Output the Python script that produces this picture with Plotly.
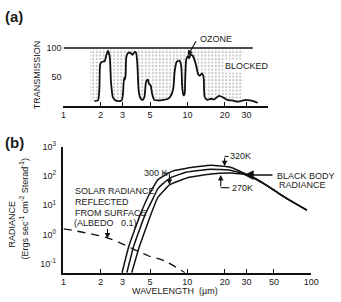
import plotly.graph_objects as go

# ---------------- data ----------------
# Panel (a): atmospheric transmission (%) vs wavelength (um)
T_WL = [1.78, 1.9, 1.95, 1.98, 2.05, 2.15, 2.22, 2.29, 2.36, 2.42, 2.5, 2.6, 2.8, 2.95,
        3.02, 3.08, 3.12, 3.17, 3.22, 3.35, 3.5, 3.6, 3.75, 3.85, 3.95, 4.05, 4.2, 4.35,
        4.5, 4.65, 4.8, 4.9, 5.05, 5.2, 5.4, 5.8, 6.4, 7.0, 7.4, 7.7, 7.9, 8.2, 8.6, 8.9,
        9.1, 9.3, 9.5, 9.6, 9.8, 10.1, 10.3, 10.6, 11.0, 11.6, 12.2, 12.6, 13.1, 13.5,
        13.8, 14.5, 15.5, 16.5, 18.0, 19.5, 21.0, 23.0, 25.0, 27.0, 29.5, 32.0, 35.0, 37.0]
T_VAL = [8, 9, 30, 72, 76, 77, 88, 95, 85, 40, 15, 10, 8, 9,
         20, 48, 45, 52, 85, 92, 91, 88, 93, 92, 70, 25, 12, 10,
         15, 42, 45, 38, 35, 20, 10, 9, 10, 12, 18, 30, 60, 76, 78, 70,
         30, 18, 20, 45, 80, 86, 82, 88, 87, 75, 55, 52, 56, 50,
         15, 10, 12, 11, 17, 14, 10, 9, 7, 8, 10, 9, 7, 5]
BLOCK_RANGE = [1.64, 28.1]       # extent of the stippled "blocked" region
FULL_TRANSMISSION = 100
REF_LINE_X = [1.0, 33.7]
A_TICKS = [1, 2, 3, 5, 10, 20, 30]

# Panel (b): radiance vs wavelength
BB_320_WL = [2.97, 3.368, 4.18, 4.826, 5.778, 7.566, 9.91, 15.54, 22.27, 30.78]
BB_320_V = [0.05, 0.4, 5.0, 20, 74, 147, 185, 233, 200, 108]
BB_300_WL = [3.249, 3.685, 4.573, 5.281, 5.778, 6.322, 7.566, 9.91, 15.54, 22.27, 30.78]
BB_300_V = [0.05, 0.4, 5.0, 17, 37, 54, 93, 136, 171, 158, 108]
BB_270_WL = [3.555, 4.105, 5.093, 5.778, 7.171, 9.91, 15.54, 22.27, 30.78]
BB_270_V = [0.05, 0.4, 5.0, 18.5, 50, 86, 117, 126, 108]
BB_TAIL_WL = [41.79, 56.75, 71.7, 92.2]
BB_TAIL_V = [54, 23, 12.6, 6.8]
SOLAR_WL = [1.0, 2.35, 3.555, 4.83, 6.55, 9.56]
SOLAR_V = [1.58, 0.735, 0.34, 0.19, 0.126, 0.05]
B_XTICKS = [1, 2, 3, 5, 10, 20, 30, 50, 100]
B_YTICKS = [0.1, 1, 10, 100, 1000]
B_YTEXT = ["10<sup>-1</sup>", "10<sup>0</sup>", "10<sup>1</sup>", "10<sup>2</sup>", "10<sup>3</sup>"]

# ---------------- figure ----------------
W, H = 341, 302
def PX(x):
    return x / W
def PY(y):
    return 1 - y / H

FONT = "Liberation Sans"
TXT = "#1a1a1a"

fig = go.Figure()

# stippled blocked region (between curve and 100 % line)
bx = [BLOCK_RANGE[0]] + [w for w in T_WL if w <= BLOCK_RANGE[1]] + [BLOCK_RANGE[1], BLOCK_RANGE[1], BLOCK_RANGE[0]]
by = [T_VAL[0]] + [v for w, v in zip(T_WL, T_VAL) if w <= BLOCK_RANGE[1]] + [T_VAL[0], FULL_TRANSMISSION - 2, FULL_TRANSMISSION - 2]
fig.add_trace(go.Scatter(x=bx, y=by, xaxis="x", yaxis="y", mode="none", fill="toself",
                         fillcolor="rgba(0,0,0,0)",
                         fillpattern=dict(shape=".", size=3.5, solidity=0.3, fgcolor="#8a8a8a"),
                         hoverinfo="skip", showlegend=False))
fig.add_trace(go.Scatter(x=REF_LINE_X, y=[FULL_TRANSMISSION] * 2, xaxis="x", yaxis="y",
                         mode="lines", line=dict(color="#111", width=1.5), showlegend=False))
fig.add_trace(go.Scatter(x=T_WL, y=T_VAL, xaxis="x", yaxis="y", mode="lines",
                         line=dict(color="#111", width=1.8, shape="spline", smoothing=0.6),
                         showlegend=False))

# panel (b)
for wl, v in [(BB_320_WL, BB_320_V), (BB_300_WL, BB_300_V), (BB_270_WL, BB_270_V)]:
    fig.add_trace(go.Scatter(x=wl + BB_TAIL_WL, y=v + BB_TAIL_V, xaxis="x2", yaxis="y2",
                             mode="lines", line=dict(color="#111", width=1.5, shape="spline", smoothing=0.3),
                             showlegend=False))
fig.add_trace(go.Scatter(x=SOLAR_WL, y=SOLAR_V, xaxis="x2", yaxis="y2", mode="lines",
                         line=dict(color="#111", width=1.3, dash="8px,6px", shape="spline"),
                         showlegend=False))

axis_common = dict(showgrid=False, zeroline=False, color="#111",
                   tickfont=dict(family=FONT, size=9, color=TXT))

fig.update_layout(
    width=W, height=H, margin=dict(l=0, r=0, t=0, b=0),
    paper_bgcolor="white", plot_bgcolor="rgba(0,0,0,0)", showlegend=False,
    xaxis=dict(type="log", range=[0, 1.652], domain=[PX(62.5), PX(274)], anchor="y",
               showline=True, linewidth=1.5, linecolor="#111",
               ticks="inside", ticklen=4, tickwidth=1.2, tickcolor="#111",
               tickvals=A_TICKS, ticktext=[str(t) for t in A_TICKS], ticklabelstandoff=0,
               **axis_common),
    yaxis=dict(range=[0, 120.3], domain=[PY(101), PY(30)], anchor="x",
               showline=False, ticks="", tickvals=[50, 100], ticktext=["50", "100"],
               ticklabelstandoff=1, **axis_common),
    xaxis2=dict(type="log", range=[0, 2], domain=[PX(62.5), PX(318.5)], anchor="y2",
                showline=True, linewidth=1.5, linecolor="#111",
                ticks="inside", ticklen=4, tickwidth=1.2, tickcolor="#111",
                tickvals=B_XTICKS, ticktext=[str(t) for t in B_XTICKS], ticklabelstandoff=0,
                **axis_common),
    yaxis2=dict(type="log", range=[-1.3, 3.0], domain=[PY(272), PY(143)], anchor="x2",
                showline=True, linewidth=1.5, linecolor="#111", ticks="",
                tickvals=B_YTICKS, ticktext=B_YTEXT, ticklabelstandoff=4, **axis_common),
)

ann = []
def text(x, y, s, size=9, xanchor="center", yanchor="middle", bold=False, angle=0, bg=None):
    a = dict(x=PX(x), y=PY(y), xref="paper", yref="paper", text=("<b>%s</b>" % s) if bold else s,
             showarrow=False, xanchor=xanchor, yanchor=yanchor, textangle=angle,
             font=dict(family=FONT, size=size, color=TXT))
    if bg:
        a["bgcolor"] = bg
    ann.append(a)

def arrow(x, y, ax, ay, head=2, size=1.0, width=1.1):
    ann.append(dict(x=PX(x), y=PY(y), xref="paper", yref="paper", text="", showarrow=True,
                    axref="pixel", ayref="pixel", ax=ax - x, ay=ay - y,
                    arrowhead=head, arrowsize=size, arrowwidth=width, arrowcolor="#111"))

text(11, 10, "(a)", size=15, bold=True)
text(12, 139, "(b)", size=15, bold=True)
text(36, 69, "TRANSMISSION", size=9, angle=-90)
text(9, 222, "RADIANCE", size=9, angle=-90)
text(22, 207, "(Ergs sec<sup>-1</sup> cm<sup>-2</sup> Sterad<sup>-1</sup>)", size=9, angle=-90)
text(178, 291, "WAVELENGTH  (\u00b5m)", size=9)
text(202, 33, "OZONE", size=9, xanchor="left")
text(227, 60, "BLOCKED", size=9, xanchor="left", bg="white")
text(72, 188, "SOLAR RADIANCE", xanchor="left")
text(72, 200, "REFLECTED", xanchor="left")
text(72, 211, "FROM SURFACE", xanchor="left")
text(71, 221, "(ALBEDO   0.1)", xanchor="left")
text(144, 170, "300 K", xanchor="left")
text(233, 153, "320K", xanchor="left")
text(235, 185, "270K", xanchor="left")
text(281, 173, "BLACK BODY", xanchor="left")
text(283, 182, "RADIANCE", xanchor="left")

arrow(191, 50, 200, 34, head=2, size=1.0)
arrow(108, 237, 108, 226, head=2)
arrow(172, 182, 172, 170, head=2)
arrow(229, 163, 229, 153, head=2)
arrow(225, 172, 225, 185, head=2)
arrow(249, 172, 279, 172, head=2, size=1.5, width=1.3)

shapes = []
def seg(x0, y0, x1, y1):
    shapes.append(dict(type="line", xref="paper", yref="paper", x0=PX(x0), y0=PY(y0),
                       x1=PX(x1), y1=PY(y1), line=dict(color="#111", width=1.1)))
seg(166, 170, 172, 170)
seg(229, 153, 233, 153)
seg(225, 185, 234, 185)

fig.update_layout(annotations=ann, shapes=shapes)
fig.write_html(
    "out.html",
    config={"displayModeBar": False},
    post_script=(
        "document.documentElement.style.margin='0';"
        "document.body.style.margin='0';document.body.style.padding='0';"
        "var g=document.getElementById('{plot_id}');"
        "g.style.position='fixed';g.style.top='0px';g.style.left='0px';"
    ),
)
